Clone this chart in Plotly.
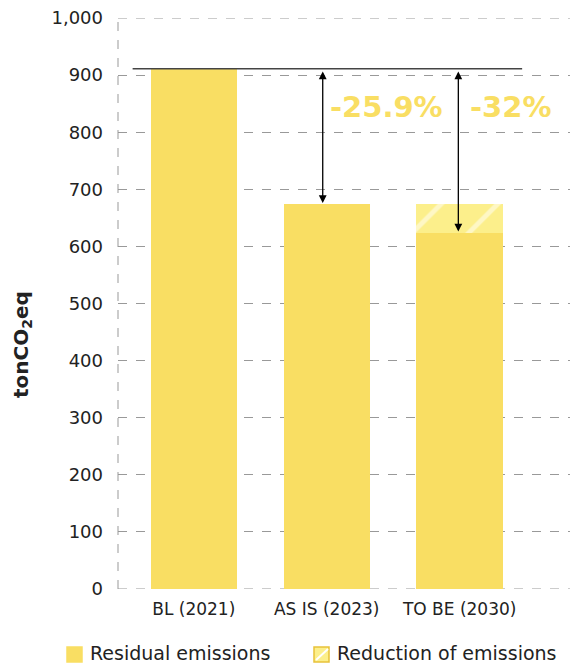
import plotly.graph_objects as go

# Emissions by scenario (tonCO2eq)
categories = ["BL (2021)", "AS IS (2023)", "TO BE (2030)"]
residual = [911, 674, 624]
reduction = [0, 0, 50]
baseline = 911
change_labels = ["-25.9%", "-32%"]
legend_names = ["Residual emissions", "Reduction of emissions"]

MAIN = "#F9DE63"
LIGHT = "#FCEF8B"
EDGE = "#E8C23A"
GRID = "#999"
FONT = "'DejaVu Sans', sans-serif"

W, H = 573, 666
L, R, T, B = 118, 3, 18, 77
PW, PH = W - L - R, H - T - B
Y_MAX = 1000


def px_x(p):
    return (p - L) / PW


def px_y(p):
    return (H - B - p) / PH


fig = go.Figure()
fig.add_trace(go.Bar(
    x=categories, y=residual, name=legend_names[0],
    marker=dict(color=MAIN, line=dict(width=0)), width=0.65,
))
fig.add_trace(go.Bar(
    x=categories, y=reduction, name=legend_names[1],
    marker=dict(color=LIGHT, line=dict(width=0),
                pattern=dict(shape="/", fgcolor="white", bgcolor=LIGHT,
                             size=40, solidity=0.12)),
    width=0.65,
))

# Dashed frame lines at the range edges (bottom, top, left)
for yv in (0, Y_MAX):
    fig.add_shape(type="line", xref="paper", yref="y", x0=0, x1=1, y0=yv, y1=yv,
                  layer="below", line=dict(color=GRID, width=1, dash="dash"))
fig.add_shape(type="line", xref="paper", yref="y", x0=0, x1=0, y0=0, y1=Y_MAX,
              line=dict(color=GRID, width=1, dash="dash"))

# Baseline reference line
fig.add_shape(type="line", xref="x", yref="y", x0=-0.46, x1=2.47,
              y0=baseline, y1=baseline, line=dict(color="#444", width=1.5))

# Double-headed arrows from baseline to each scenario total
totals = [residual[1] + reduction[1], residual[2]]
arrow_x = [0.97, 1.99]
for xa, tgt in zip(arrow_x, totals):
    fig.add_annotation(x=xa, y=tgt + 2, ax=xa, ay=baseline - 2, xref="x", yref="y",
                       axref="x", ayref="y", text="", showarrow=True,
                       arrowhead=2, arrowside="end+start", arrowsize=1.2,
                       arrowwidth=1.3, arrowcolor="black")

label_x = [1.45, 2.38]
for xl, txt in zip(label_x, change_labels):
    fig.add_annotation(x=xl, y=844, xref="x", yref="y", text="<b>" + txt + "</b>",
                       showarrow=False,
                       font=dict(size=29, color=MAIN, family=FONT))

# Y-axis title
fig.add_annotation(x=px_x(22), y=px_y(345), xref="paper", yref="paper",
                   text="<b>tonCO<sub>2</sub>eq</b>", textangle=-90, showarrow=False,
                   xanchor="center", yanchor="middle",
                   font=dict(size=20, color="#222", family=FONT))

# Legend drawn below the plot
sym_x = [67, 314]
sym_fill = [MAIN, LIGHT]
sym_edge = [MAIN, EDGE]
for sx, name, fill, edge in zip(sym_x, legend_names, sym_fill, sym_edge):
    fig.add_shape(type="rect", xref="paper", yref="paper",
                  x0=px_x(sx), x1=px_x(sx + 15), y0=px_y(662), y1=px_y(647),
                  fillcolor=fill, line=dict(color=edge, width=1.5))
    fig.add_annotation(x=px_x(sx + 21), y=px_y(653), xref="paper", yref="paper",
                       text=name, showarrow=False, xanchor="left", yanchor="middle",
                       font=dict(size=19, color="#222", family=FONT))
# stripe inside the reduction symbol
fig.add_shape(type="line", xref="paper", yref="paper",
              x0=px_x(316), x1=px_x(328), y0=px_y(660), y1=px_y(649),
              line=dict(color="white", width=2))

fig.update_layout(
    barmode="stack",
    width=W, height=H,
    margin=dict(l=L, r=R, t=T, b=B, autoexpand=False),
    plot_bgcolor="white", paper_bgcolor="white",
    font=dict(family=FONT, color="#222"),
    showlegend=False,
    xaxis=dict(range=[-0.57, 2.83], showgrid=False, showline=False, ticks="",
               tickfont=dict(size=17), zeroline=False, ticklabelstandoff=8),
    yaxis=dict(range=[0, Y_MAX], dtick=100, tickformat=",d", showgrid=True,
               gridcolor=GRID, griddash="dash", gridwidth=1, zeroline=False,
               showline=False, ticks="", tickfont=dict(size=18), ticklabelstandoff=14),
)

fig.write_html("out.html")
